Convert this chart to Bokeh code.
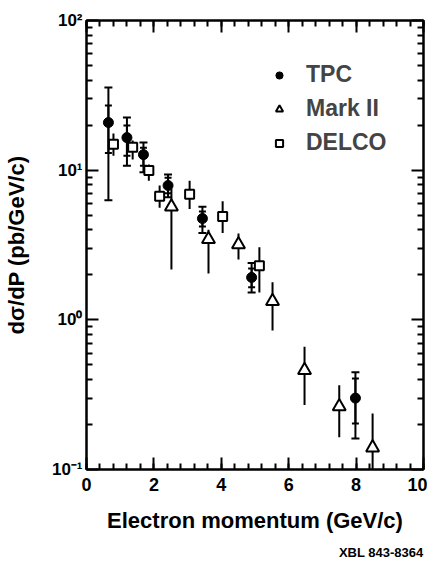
from bokeh.plotting import figure
from bokeh.models import (ColumnDataSource, Whisker, TeeHead, FixedTicker, LinearAxis,
                          LogAxis, Legend, LegendItem, Title)
from bokeh.embed import file_html
from bokeh.resources import INLINE

# ---- data ----
tpc_x = [0.65, 1.2, 1.69, 2.42, 3.44, 4.9, 7.98]
tpc_y = [20.8, 16.5, 12.7, 7.9, 4.75, 1.92, 0.30]
tpc_lo = [6.3, 10.7, 9.7, 6.6, 3.8, 1.52, 0.161]
tpc_hi = [35.7, 22.5, 15.3, 9.35, 5.7, 2.4, 0.446]
tpc_stat_lo = [13.0, 12.5, 10.7, 7.0, 4.2, 1.65, 0.203]
tpc_stat_hi = [27.0, 19.9, 14.1, 8.9, 5.3, 2.2, 0.406]

mk_x = [2.52, 3.62, 4.51, 5.52, 6.47, 7.5, 8.49]
mk_y = [5.7, 3.45, 3.19, 1.33, 0.46, 0.264, 0.14]
mk_lo = [2.17, 2.04, 2.53, 0.85, 0.27, 0.164, 0.09]
mk_hi = [7.5, 4.0, 3.78, 1.78, 0.66, 0.365, 0.237]

dl_x = [0.8, 1.37, 1.85, 2.17, 3.06, 4.04, 5.13]
dl_y = [14.9, 14.2, 9.96, 6.7, 6.9, 4.9, 2.3]
dl_lo = [12.5, 11.8, 8.5, 5.6, 5.5, 3.8, 1.52]
dl_hi = [17.6, 15.8, 10.9, 7.9, 8.5, 6.2, 3.05]

x_ticks = [0, 2, 4, 6, 8, 10]
y_ticks = [0.1, 1, 10, 100]
y_tick_labels = ["10\u207b\u00b9", "10\u2070", "10\u00b9", "10\u00b2"]

FONT = "Liberation Sans"

p = figure(width=427, height=568, x_range=(0, 10), y_range=(0.1, 100),
           y_axis_type="log", output_backend="svg", toolbar_location=None,
           min_border_left=86, min_border_right=4, min_border_top=20,
           min_border_bottom=99)
p.grid.visible = False
p.outline_line_color = "black"
p.outline_line_width = 2
p.background_fill_color = "white"
p.border_fill_color = "white"

x_minor = [i * 0.4 for i in range(26)]
y_minor = [k * 10.0 ** e for e in (-1, 0, 1) for k in range(2, 10)]
xt = FixedTicker(ticks=x_ticks, minor_ticks=x_minor)
yt = FixedTicker(ticks=y_ticks, minor_ticks=y_minor)


def style(ax):
    ax.axis_line_width = 2
    ax.major_tick_line_width = 2
    ax.minor_tick_line_width = 2
    ax.major_tick_in = 12
    ax.major_tick_out = 0
    ax.minor_tick_in = 6
    ax.minor_tick_out = 0


xa = p.xaxis[0]
xa.ticker = xt
style(xa)
xa.major_label_text_font = FONT
xa.major_label_text_font_style = "bold"
xa.major_label_text_font_size = "18px"
xa.major_label_standoff = 8
xa.major_label_text_color = "black"
xa.axis_label = "Electron momentum (GeV/c)"
xa.axis_label_text_font = FONT
xa.axis_label_text_font_style = "bold"
xa.axis_label_text_font_size = "22px"
xa.axis_label_standoff = 14
xa.axis_label_text_color = "black"

ya = p.yaxis[0]
ya.ticker = yt
style(ya)
ya.major_label_overrides = {v: s for v, s in zip(y_ticks, y_tick_labels)}
ya.major_label_text_font = FONT
ya.major_label_text_font_style = "bold"
ya.major_label_text_font_size = "17px"
ya.major_label_standoff = 4
ya.major_label_text_color = "black"
ya.axis_label = "d\u03c3/dP (pb/GeV/c)"
ya.axis_label_text_font = FONT
ya.axis_label_text_font_style = "bold"
ya.axis_label_text_font_size = "22px"
ya.axis_label_standoff = 20
ya.axis_label_text_color = "black"

top = LinearAxis(ticker=xt, major_label_text_font_size="1px",
                 major_label_text_color=None, major_label_standoff=0)
style(top)
p.add_layout(top, "above")
right = LogAxis(ticker=yt, major_label_text_font_size="1px",
                major_label_text_color=None, major_label_standoff=0)
style(right)
p.add_layout(right, "right")

# ---- error bars ----
tpc_src = ColumnDataSource(dict(x=tpc_x, y=tpc_y, lo=tpc_lo, hi=tpc_hi,
                                slo=tpc_stat_lo, shi=tpc_stat_hi))
mk_src = ColumnDataSource(dict(x=mk_x, y=mk_y, lo=mk_lo, hi=mk_hi))
dl_src = ColumnDataSource(dict(x=dl_x, y=dl_y, lo=dl_lo, hi=dl_hi))

p.add_layout(Whisker(source=tpc_src, base="x", lower="lo", upper="hi",
                     dimension="height", line_width=2, line_color="black",
                     upper_head=TeeHead(size=8, line_width=2),
                     lower_head=TeeHead(size=8, line_width=2)))
p.add_layout(Whisker(source=tpc_src, base="x", lower="slo", upper="shi",
                     dimension="height", line_width=2, line_color="black",
                     upper_head=TeeHead(size=7, line_width=2),
                     lower_head=TeeHead(size=7, line_width=2)))
p.segment(x0="x", y0="lo", x1="x", y1="hi", source=mk_src, line_width=2,
          line_color="black")
p.segment(x0="x", y0="lo", x1="x", y1="hi", source=dl_src, line_width=2,
          line_color="black")

r_tpc = p.scatter("x", "y", source=tpc_src, marker="circle", size=10,
                  fill_color="black", line_color="black")
r_mk = p.scatter("x", "y", source=mk_src, marker="triangle", size=13,
                 fill_color="white", line_color="black", line_width=2)
r_dl = p.scatter("x", "y", source=dl_src, marker="square", size=9,
                 fill_color="white", line_color="black", line_width=2)

legend = Legend(items=[LegendItem(label="TPC", renderers=[r_tpc]),
                       LegendItem(label="Mark II", renderers=[r_mk]),
                       LegendItem(label="DELCO", renderers=[r_dl])],
                location=(184, 313), border_line_color=None,
                background_fill_alpha=0, label_text_font=FONT,
                label_text_font_style="bold", label_text_font_size="23px",
                glyph_width=18, glyph_height=24, spacing=7, label_standoff=18,
                padding=0, margin=0)
p.add_layout(legend)

p.add_layout(Title(text="XBL 843-8364", align="right", text_font=FONT,
                   text_font_style="bold", text_font_size="13px",
                   text_color="black", standoff=15, offset=0), "below")

open("out.html", "w").write(file_html(p, INLINE))
